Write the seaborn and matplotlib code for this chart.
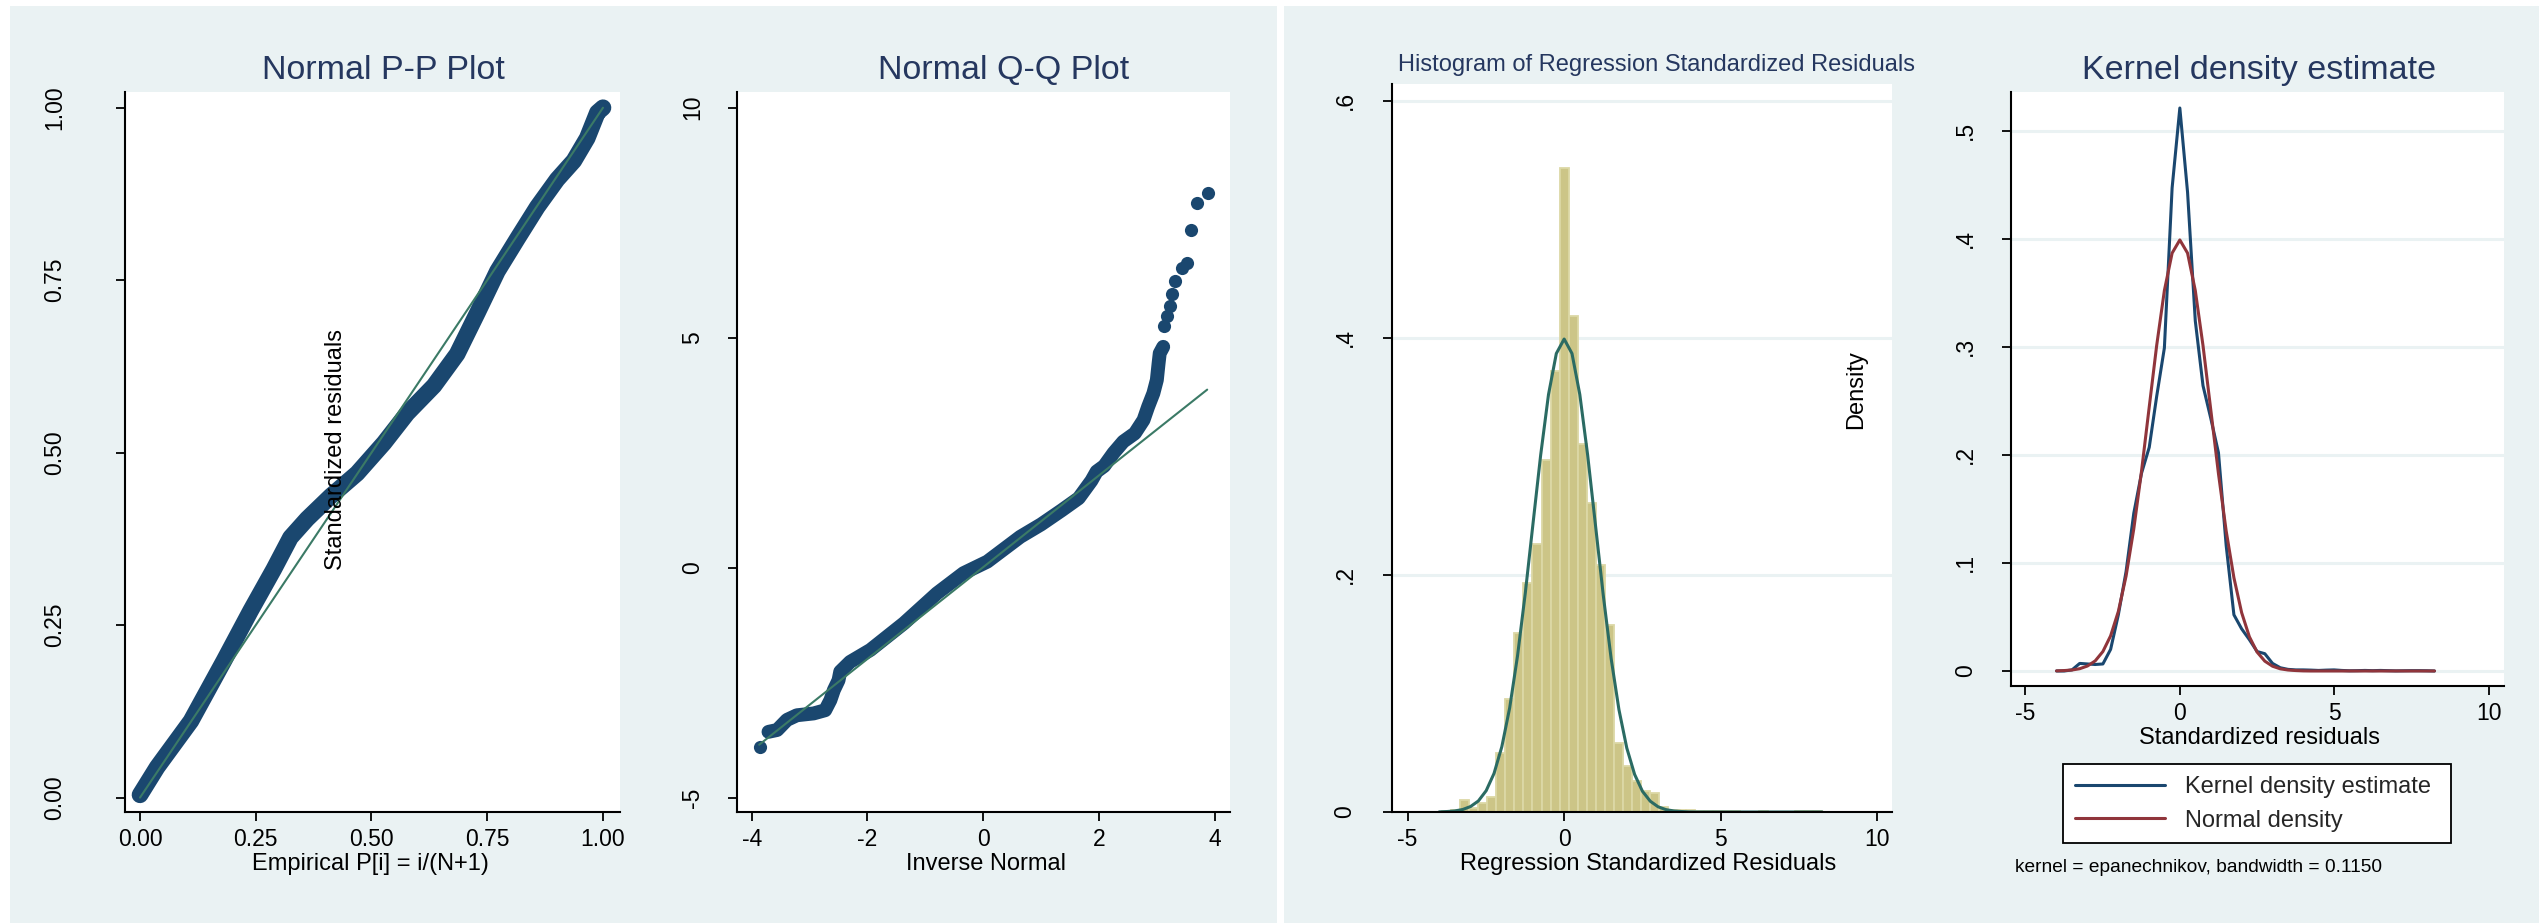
import numpy as np
import pandas as pd
import matplotlib
matplotlib.use("Agg")
import matplotlib.pyplot as plt
from matplotlib.patches import Rectangle
from matplotlib.lines import Line2D
import seaborn as sns

# ---------------- data ----------------
# Normal P-P plot: empirical P[i] vs normal CDF of standardized residuals
pp_empirical = [0.0, 0.037, 0.11, 0.181, 0.239, 0.289, 0.325, 0.361, 0.412, 0.469,
                0.527, 0.577, 0.635, 0.685, 0.729, 0.772, 0.815, 0.858, 0.901, 0.937,
                0.966, 0.988, 1.0]
pp_normal = [0.004, 0.044, 0.111, 0.198, 0.271, 0.331, 0.377, 0.404, 0.437, 0.47,
             0.514, 0.557, 0.597, 0.643, 0.703, 0.763, 0.81, 0.856, 0.896, 0.923,
             0.956, 0.993, 1.0]
pp_line_x = [0.0, 1.0]
pp_line_y = [0.0, 1.0]

# Normal Q-Q plot: inverse normal vs standardized residuals
qq_inverse_normal = [-3.71, -3.56, -3.39, -3.22, -2.93, -2.73, -2.64, -2.58, -2.50, -2.47,
                     -2.30, -1.95, -1.37, -0.80, -0.34, 0.07, 0.64, 1.00, 1.36, 1.65,
                     1.87, 1.96, 2.09, 2.25, 2.42, 2.62, 2.77, 2.85, 2.94, 3.00,
                     3.03, 3.05, 3.11]
qq_residual = [-3.57, -3.53, -3.31, -3.21, -3.17, -3.10, -2.88, -2.66, -2.45, -2.26,
               -2.05, -1.79, -1.21, -0.56, -0.12, 0.13, 0.67, 0.94, 1.25, 1.51,
               1.89, 2.09, 2.21, 2.49, 2.74, 2.92, 3.21, 3.50, 3.79, 4.08,
               4.44, 4.66, 4.80]
qq_tail_inverse_normal = [-3.86, 3.13, 3.18, 3.23, 3.26, 3.31, 3.43, 3.52, 3.59, 3.70, 3.88]
qq_tail_residual = [-3.89, 5.25, 5.46, 5.69, 5.96, 6.23, 6.51, 6.63, 7.34, 7.92, 8.15]
qq_line_x = [-3.87, 3.87]
qq_line_y = [-3.85, 3.87]

# Histogram of regression standardized residuals (density per bin)
hist_bin_start = -3.90
hist_bin_width = 0.2888
hist_density = [0.0005, 0.002, 0.010, 0.003, 0.008, 0.013, 0.050, 0.095, 0.151, 0.193,
                0.226, 0.297, 0.372, 0.543, 0.418, 0.310, 0.261, 0.208, 0.158, 0.058,
                0.039, 0.026, 0.018, 0.016, 0.004, 0.002, 0.0013, 0.002, 0.0008, 0.0005,
                0.001, 0.0005, 0.0005, 0.0003, 0.0003, 0.001, 0.0003, 0.0003, 0.0003, 0.0005,
                0.0005, 0.0005]

# Kernel density estimate and normal density on the evaluation grid
grid_x = [-3.99, -3.74, -3.49, -3.24, -2.99, -2.74, -2.49, -2.24, -1.99, -1.74,
          -1.49, -1.24, -0.99, -0.75, -0.50, -0.25, 0.00, 0.25, 0.50, 0.75,
          1.00, 1.25, 1.50, 1.75, 2.00, 2.25, 2.50, 2.75, 3.00, 3.25,
          3.50, 3.75, 3.99, 4.24, 4.49, 4.74, 4.99, 5.24, 5.49, 5.74,
          5.99, 6.24, 6.49, 6.74, 6.99, 7.24, 7.49, 7.74, 7.99, 8.24]
kde_density = [0.000, 0.000, 0.001, 0.007, 0.0065, 0.006, 0.0065, 0.020, 0.052, 0.092,
               0.146, 0.183, 0.207, 0.254, 0.299, 0.447, 0.521, 0.443, 0.324, 0.264,
               0.234, 0.202, 0.116, 0.052, 0.039, 0.029, 0.018, 0.016, 0.007, 0.003,
               0.0015, 0.001, 0.001, 0.0008, 0.0005, 0.0008, 0.001, 0.0005, 0.0002, 0.0003,
               0.0005, 0.0003, 0.0005, 0.0003, 0.0001, 0.0002, 0.0003, 0.0003, 0.0002, 0.000]
normal_density = [0.0001, 0.0004, 0.0009, 0.0021, 0.0046, 0.0093, 0.0180, 0.0325, 0.0551, 0.0878,
                  0.1315, 0.1849, 0.2444, 0.3011, 0.3521, 0.3867, 0.3989, 0.3867, 0.3521, 0.3011,
                  0.2420, 0.1826, 0.1295, 0.0863, 0.0540, 0.0317, 0.0175, 0.0091, 0.0044, 0.0020,
                  0.0009, 0.0004, 0.0001, 0.0, 0.0, 0.0, 0.0, 0.0, 0.0, 0.0,
                  0.0, 0.0, 0.0, 0.0, 0.0, 0.0, 0.0, 0.0, 0.0, 0.0]

pp_ticks = [0.0, 0.25, 0.5, 0.75, 1.0]
pp_ticklabels = ["0.00", "0.25", "0.50", "0.75", "1.00"]
qq_xticks = [-4, -2, 0, 2, 4]
qq_yticks = [-5, 0, 5, 10]
res_xticks = [-5, 0, 5, 10]
hist_yticks = [0, 0.2, 0.4, 0.6]
hist_yticklabels = ["0", ".2", ".4", ".6"]
kde_yticks = [0, 0.1, 0.2, 0.3, 0.4, 0.5]
kde_yticklabels = ["0", ".1", ".2", ".3", ".4", ".5"]

# ---------------- styling ----------------
sns.set_theme(style="white")
plt.rcParams["font.family"] = ["Liberation Sans", "DejaVu Sans"]

W, H, DPI = 2539, 923, 100
BG = "#eaf2f3"
NAVY = "#1a476f"
GREEN = "#3b7a66"
TEAL = "#2b6b63"
MAROON = "#90353b"
TITLE = "#25375f"
BAR = "#ccc587"
BAR_EDGE = "#dcd8a6"

fig = plt.figure(figsize=(W / DPI, H / DPI), dpi=DPI)
fig.patch.set_facecolor("white")


def fx(px):
    return px / W


def fy(py):
    return 1 - py / H


for x0, x1 in [(10, 1277), (1284, 2539)]:
    fig.patches.append(Rectangle((fx(x0), 0), fx(x1 - x0), (H - 6) / H,
                                 transform=fig.transFigure, facecolor=BG,
                                 edgecolor="none", zorder=-10))


def add_ax(x0, y0, x1, y1):
    return fig.add_axes([fx(x0), fy(y1), fx(x1 - x0), (y1 - y0) / H])


def style(ax, xlim, ylim, xticks, xlabels, yticks, ylabels, ypad, grid=False):
    ax.set_facecolor("white")
    ax.set_xlim(xlim)
    ax.set_ylim(ylim)
    for s in ["top", "right"]:
        ax.spines[s].set_visible(False)
    for s in ["left", "bottom"]:
        ax.spines[s].set_visible(True)
        ax.spines[s].set_color("black")
        ax.spines[s].set_linewidth(1.5)
    ax.set_xticks(xticks)
    ax.set_xticklabels(xlabels)
    ax.set_yticks(yticks)
    ax.set_yticklabels(ylabels)
    ax.tick_params(axis="both", which="major", direction="out", length=6.5, width=1.3,
                   color="black", labelsize=16.5, labelcolor="black",
                   bottom=True, left=True)
    ax.tick_params(axis="x", pad=5)
    ax.tick_params(axis="y", pad=ypad, labelrotation=90)
    for lab in ax.get_yticklabels():
        lab.set_va("center")
    ax.set_xlabel("")
    ax.set_ylabel("")
    if grid:
        ax.yaxis.grid(True, color=BG, linewidth=2.2)
        ax.set_axisbelow(True)
    else:
        ax.grid(False)


# ---------------- Panel 1: Normal P-P ----------------
ax1 = add_ax(124.5, 92, 619.6, 812)
sns.lineplot(x=pp_empirical, y=pp_normal, ax=ax1, color=NAVY, linewidth=12,
             sort=False, estimator=None, solid_capstyle="round", solid_joinstyle="round")
sns.lineplot(x=pp_line_x, y=pp_line_y, ax=ax1, color=GREEN, linewidth=1.5,
             sort=False, estimator=None, zorder=5)
style(ax1, (-0.0335, 1.0359), (-0.0209, 1.0228), pp_ticks, pp_ticklabels,
      pp_ticks, pp_ticklabels, ypad=35.5)

# ---------------- Panel 2: Normal Q-Q ----------------
ax2 = add_ax(737, 92, 1230, 812)
sns.lineplot(x=qq_inverse_normal, y=qq_residual, ax=ax2, color=NAVY, linewidth=10,
             sort=False, estimator=None, solid_capstyle="round", solid_joinstyle="round")
sns.scatterplot(x=qq_tail_inverse_normal, y=qq_tail_residual,
                ax=ax2, color=NAVY, s=90, linewidth=0)
sns.lineplot(x=qq_line_x, y=qq_line_y, ax=ax2, color=GREEN, linewidth=1.5,
             sort=False, estimator=None, zorder=5)
style(ax2, (-4.254, 4.264), (-5.313, 10.341), qq_xticks, [str(v) for v in qq_xticks],
      qq_yticks, [str(v) for v in qq_yticks], ypad=17)

# ---------------- Panel 3: Histogram ----------------
ax3 = add_ax(1392, 84, 1892, 812)
edges = [hist_bin_start + hist_bin_width * i for i in range(len(hist_density) + 1)]
centers = [(a + b) / 2 for a, b in zip(edges[:-1], edges[1:])]
hist_df = pd.DataFrame({"center": centers, "density": hist_density})
sns.histplot(data=hist_df, x="center", weights="density", bins=edges, stat="count", ax=ax3,
             color=BAR, edgecolor=BAR_EDGE, linewidth=1.3, alpha=1.0)
sns.lineplot(x=grid_x, y=normal_density, ax=ax3, color=TEAL, linewidth=2.2,
             sort=False, estimator=None)
style(ax3, (-5.498, 10.47), (0, 0.614), res_xticks, [str(v) for v in res_xticks],
      hist_yticks, hist_yticklabels, ypad=19, grid=True)

# ---------------- Panel 4: Kernel density ----------------
ax4 = add_ax(2010.8, 92, 2504, 686)
sns.lineplot(x=grid_x, y=kde_density, ax=ax4, color=NAVY, linewidth=2.2,
             sort=False, estimator=None)
sns.lineplot(x=grid_x, y=normal_density, ax=ax4, color=MAROON, linewidth=2.2,
             sort=False, estimator=None)
style(ax4, (-5.47, 10.49), (-0.0139, 0.5358), res_xticks, [str(v) for v in res_xticks],
      kde_yticks, kde_yticklabels, ypad=18, grid=True)
if ax4.get_legend() is not None:
    ax4.get_legend().remove()

handles = [Line2D([0], [0], color=NAVY, lw=2.2), Line2D([0], [0], color=MAROON, lw=2.2)]
leg = ax4.legend(handles, ["Kernel density estimate", "Normal density"],
                 loc="upper left", bbox_to_anchor=(fx(2063), fy(765), fx(388), 0.001),
                 bbox_transform=fig.transFigure, mode="expand", borderaxespad=0,
                 frameon=True, fancybox=False, edgecolor="black", framealpha=1,
                 fontsize=17, handlelength=3.8, handletextpad=0.85,
                 labelspacing=0.5, borderpad=0.5)
leg.get_frame().set_linewidth(1.3)

# ---------------- texts ----------------
title_kw = dict(ha="center", va="center", color=TITLE, fontsize=24.5)
fig.text(fx(383.7), fy(70.6), "Normal P-P Plot", **title_kw)
fig.text(fx(1003.4), fy(70.6), "Normal Q-Q Plot", **title_kw)
fig.text(fx(1656), fy(64.8), "Histogram of Regression Standardized Residuals",
         ha="center", va="center", color=TITLE, fontsize=17)
fig.text(fx(2259.5), fy(70.6), "Kernel density estimate", **title_kw)

lab_kw = dict(ha="center", va="center", color="black", fontsize=17)
fig.text(fx(370.6), fy(864), "Empirical P[i] = i/(N+1)", **lab_kw)
fig.text(fx(985.6), fy(864), "Inverse Normal", **lab_kw)
fig.text(fx(1647.8), fy(864), "Regression Standardized Residuals", **lab_kw)
fig.text(fx(2259.4), fy(737.6), "Standardized residuals", **lab_kw)

fig.text(fx(336), fy(450), "Standardized residuals", rotation=90, **lab_kw)
fig.text(fx(1856), fy(390), "Density", rotation=90, **lab_kw)
fig.text(fx(2015), fy(867), "kernel = epanechnikov, bandwidth = 0.1150",
         ha="left", va="center", color="black", fontsize=13.8)

fig.savefig("out.png", dpi=DPI, facecolor="white")
